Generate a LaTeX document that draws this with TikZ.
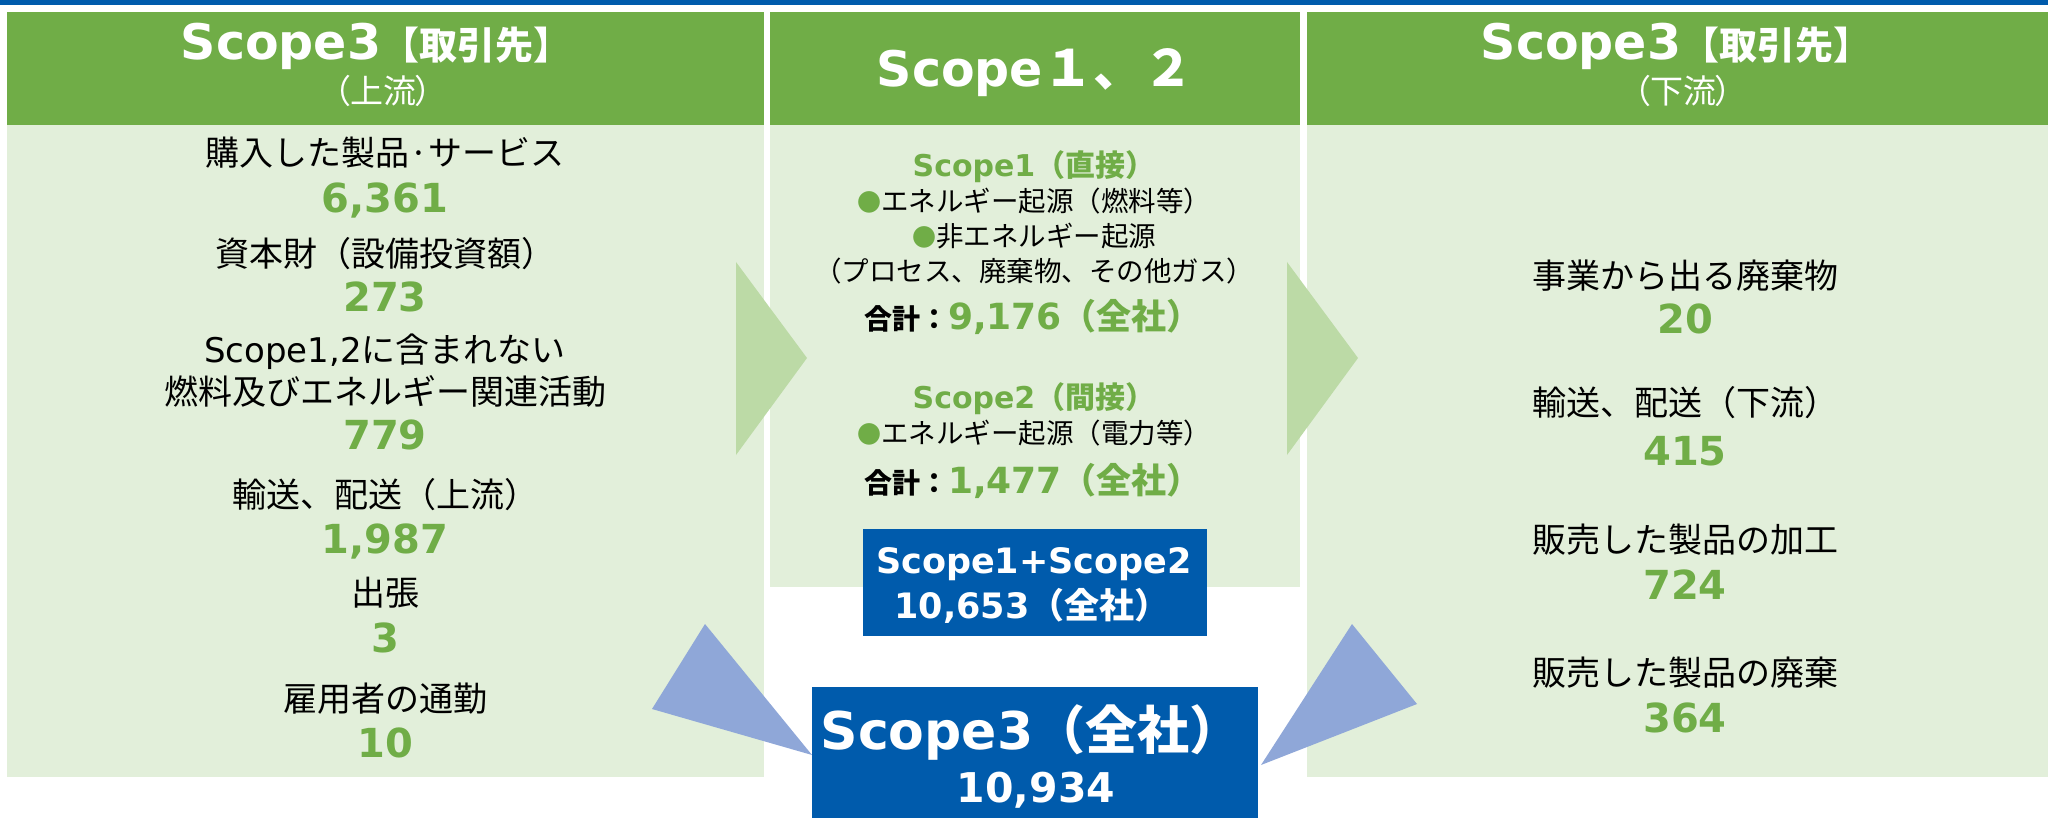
\documentclass[tikz,border=0pt]{standalone}
\usepackage{fontspec}
\setmainfont{DejaVu Sans}
\newfontfamily\jp{Noto Sans CJK JP}
\newfontfamily\jpp[RawFeature=+palt]{Noto Sans CJK JP}
\definecolor{topblue}{RGB}{0,91,172}
\definecolor{hdrgreen}{RGB}{112,173,71}
\definecolor{bodygreen}{RGB}{226,239,218}
\definecolor{chevgreen}{RGB}{188,218,166}
\definecolor{tribl}{RGB}{143,167,216}
\definecolor{tgreen}{RGB}{112,173,71}
\newcommand\fsz[1]{\fontsize{#1}{#1}\selectfont}
\newcommand\gdot{{\color{tgreen}\fsz{24}●}}
\tikzset{
  t/.style={inner sep=0pt, outer sep=0pt, anchor=base},
  body/.style={t, font=\jp\fsz{34}, text=black},
  num/.style={t, font=\bfseries\fsz{40}, text=tgreen},
  mid/.style={t, font=\jp\fsz{27.5}, text=black},
  hdr/.style={fill=hdrgreen},
  panel/.style={fill=bodygreen},
  chev/.style={fill=chevgreen},
  tri/.style={fill=tribl},
  bluebox/.style={fill=topblue, inner sep=0pt, outer sep=0pt},
  wt/.style={t, text=white}
}
\begin{document}
\begin{tikzpicture}[x=1pt,y=-1pt]
\useasboundingbox (0,0) rectangle (2048,818);
% top rule
\fill[topblue] (0,0) rectangle (2048,5);
% panels
\fill[hdr] (7,12.5) rectangle (764,125);
\fill[panel] (7,125) rectangle (764,777);
\fill[hdr] (770,12.5) rectangle (1300,125);
\fill[panel] (770,125) rectangle (1300,587);
\fill[hdr] (1307,12.5) rectangle (2048,125);
\fill[panel] (1307,125) rectangle (2048,777);
% chevrons
\fill[chev] (736,262) -- (807,358) -- (736,455) -- cycle;
\fill[chev] (1287,262) -- (1358,358) -- (1287,455) -- cycle;
% blue triangles
\fill[tri] (705,624) -- (652,709) -- (812,755) -- cycle;
\fill[tri] (1352,624) -- (1417,704) -- (1261,765) -- cycle;
% blue boxes
\node[bluebox, minimum width=344pt, minimum height=107pt] (b1) at (1035,582.5) {};
\node[bluebox, minimum width=446pt, minimum height=131pt] (b2) at (1035,752.5) {};

% headers
\node[wt] (lhd) at (376,60) {{\bfseries\fsz{49}Scope3}{\jp\bfseries\fsz{38}【取引先】}};
\node[wt] (lsub) at (383,104) {\jpp\fsz{33}（上流）};
\node[wt] (mhd) at (1035,87) {{\bfseries\fsz{49}Scope}{\jp\bfseries\fsz{50}１、２}};
\node[wt] (rhd) at (1676,60) {{\bfseries\fsz{49}Scope3}{\jp\bfseries\fsz{38}【取引先】}};
\node[wt] (rsub) at (1683,104) {\jpp\fsz{33}（下流）};

% left column
\node[body] (l1) at (385,166) {購入した製品·サービス};
\node[num] (l2) at (385,213) {6,361};
\node[body] (l3) at (385,266.5) {資本財（設備投資額）};
\node[num] (l4) at (385,312) {273};
\node[body] (l5) at (385,362) {{\rmfamily Scope1,2}に含まれない};
\node[body] (l6) at (385,404.5) {燃料及びエネルギー関連活動};
\node[num] (l7) at (385,449) {779};
\node[body] (l8) at (385,507) {輸送、配送（上流）};
\node[num] (l9) at (385,553) {1,987};
\node[body] (l10) at (385,605) {出張};
\node[num] (l11) at (385,652) {3};
\node[body] (l12) at (385,711) {雇用者の通勤};
\node[num] (l13) at (385,757) {10};

% right column
\node[body] (r1) at (1685,289) {事業から出る廃棄物};
\node[num] (r2) at (1685,334) {20};
\node[body] (r3) at (1685,415) {輸送、配送（下流）};
\node[num] (r4) at (1685,465) {415};
\node[body] (r5) at (1685,552) {販売した製品の加工};
\node[num] (r6) at (1685,599) {724};
\node[body] (r7) at (1685,685) {販売した製品の廃棄};
\node[num] (r8) at (1685,732) {364};

% middle column
\node[t, text=tgreen] (m1) at (1034,177) {{\bfseries\fsz{30}Scope1}{\jp\bfseries\fsz{30}（直接）}};
\node[mid] (m2) at (1034,212) {\gdot エネルギー起源（燃料等）};
\node[mid] (m3) at (1034,247) {\gdot 非エネルギー起源};
\node[mid] (m4) at (1034,282) {（プロセス、廃棄物、その他ガス）};
\node[t] (m5) at (1033,330) {{\jp\bfseries\fsz{28}合計：}{\color{tgreen}\bfseries\fsz{36}9,176{\jp\fsz{35}（全社）}}};
\node[t, text=tgreen] (m6) at (1034,408) {{\bfseries\fsz{30}Scope2}{\jp\bfseries\fsz{30}（間接）}};
\node[mid] (m7) at (1034,443) {\gdot エネルギー起源（電力等）};
\node[t] (m8) at (1033,493) {{\jp\bfseries\fsz{28}合計：}{\color{tgreen}\bfseries\fsz{36}1,477{\jp\fsz{35}（全社）}}};

% box texts
\node[wt] (b1a) at (1034,573) {\bfseries\fsz{35}Scope1+Scope2};
\node[wt] (b1b) at (1032,618) {{\bfseries\fsz{35}10,653}{\jp\bfseries\fsz{35}（全社）}};
\node[wt] (b2a) at (1031,749) {{\bfseries\fsz{52}Scope3}{\jp\bfseries\fsz{52}（全社）}};
\node[wt] (b2b) at (1036,802) {\bfseries\fsz{41}10,934};
\end{tikzpicture}
\end{document}
